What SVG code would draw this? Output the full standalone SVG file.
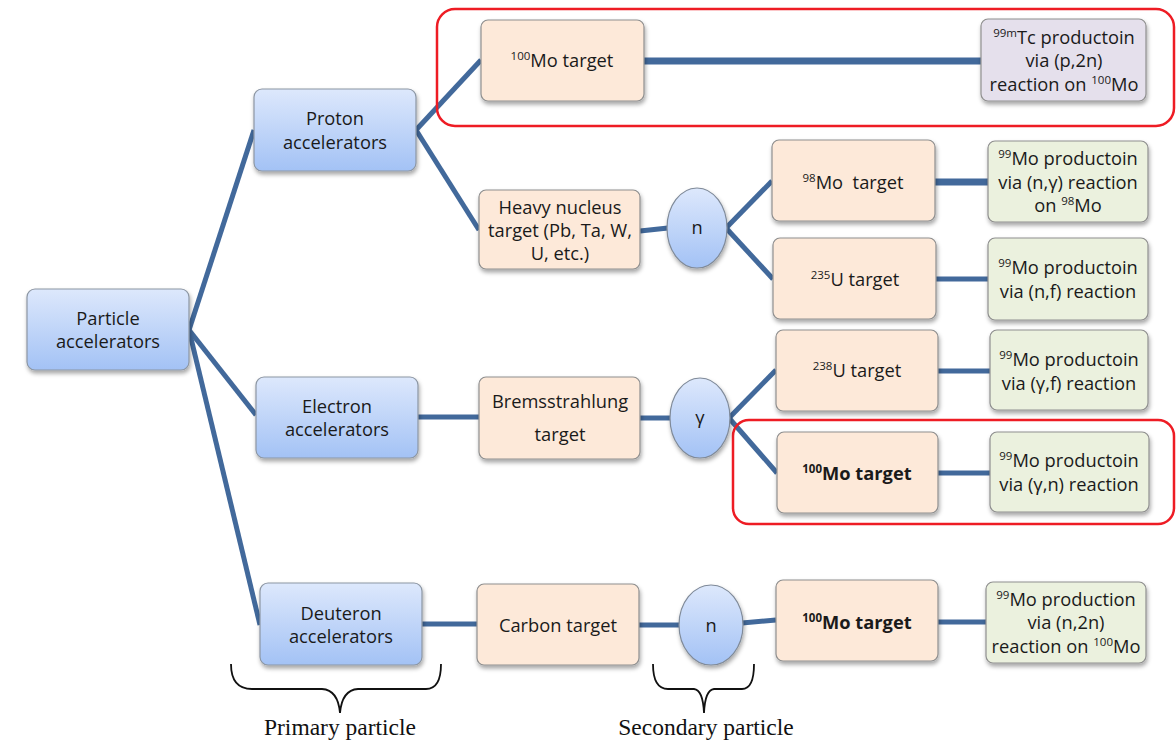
<svg xmlns="http://www.w3.org/2000/svg" width="1176" height="741" viewBox="0 0 1176 741">
<defs>
<linearGradient id="gBlue" x1="0" y1="0" x2="0" y2="1"><stop offset="0" stop-color="#dde8fc"/><stop offset="1" stop-color="#a3c2f5"/></linearGradient>
<filter id="sh" x="-10%" y="-10%" width="125%" height="135%"><feDropShadow dx="1" dy="3" stdDeviation="2" flood-color="#000" flood-opacity="0.35"/></filter>
<style>
.acc{fill:url(#gBlue);stroke:#8c96a3;stroke-width:1.2;filter:url(#sh)}
.pch{fill:#fde9d9;stroke:#8f8f8f;stroke-width:1.2;filter:url(#sh)}
.grn{fill:#ebf1de;stroke:#8f8f8f;stroke-width:1.2;filter:url(#sh)}
.lav{fill:#e5e0ec;stroke:#8f8f8f;stroke-width:1.2;filter:url(#sh)}
.ell{fill:url(#gBlue);stroke:#7f8a99;stroke-width:1.2;filter:url(#sh)}
.t{font-family:"Open Sans","Noto Sans",sans-serif;font-size:18.3px;fill:#1a1a1a;text-anchor:middle}
.b{font-weight:bold}
.sup{font-size:11.5px}
.c{stroke:#42699b;stroke-width:5;fill:none;stroke-linecap:butt}
.cw{stroke:#42699b;stroke-width:7;fill:none}
.red{fill:none;stroke:#ee1c24;stroke-width:2.5}
.br{fill:none;stroke:#111;stroke-width:1.8}
.s{font-family:"Liberation Serif",serif;font-size:23.5px;fill:#111;text-anchor:middle}
</style>
</defs>
<rect width="1176" height="741" fill="#ffffff"/>
<g id="connectors">
<line class="c" x1="189" y1="330" x2="254" y2="130"/>
<line class="c" x1="189" y1="330" x2="256" y2="415"/>
<line class="c" x1="189" y1="330" x2="260" y2="625"/>
<line class="c" x1="416" y1="130" x2="481" y2="60"/>
<line class="c" x1="416" y1="130" x2="479" y2="230"/>
<line class="cw" x1="644" y1="61" x2="981" y2="61"/>
<line class="c" x1="640" y1="231" x2="668" y2="228"/>
<line class="c" x1="726" y1="228" x2="772" y2="181"/>
<line class="c" x1="726" y1="228" x2="773" y2="279"/>
<line class="cw" x1="935" y1="182" x2="988" y2="182"/>
<line class="c" x1="936" y1="279" x2="988" y2="279"/>
<line class="c" x1="418" y1="417" x2="479" y2="417"/>
<line class="c" x1="640" y1="418" x2="670" y2="418"/>
<line class="c" x1="729" y1="418" x2="776" y2="370"/>
<line class="c" x1="729" y1="418" x2="777" y2="473"/>
<line class="c" x1="938" y1="371" x2="990" y2="371"/>
<line class="c" x1="938" y1="473" x2="990" y2="473"/>
<line class="c" x1="422" y1="624" x2="477" y2="624"/>
<line class="c" x1="639" y1="625" x2="680" y2="625"/>
<line class="c" x1="742" y1="623" x2="776" y2="620"/>
<line class="c" x1="938" y1="622" x2="986" y2="622"/>
</g>
<g id="highlight1"><rect class="red" x="437" y="9" width="737" height="117" rx="18"/></g>
<g id="highlight2"><rect class="red" x="733" y="420" width="441" height="104" rx="16"/></g>
<g id="n-particle"><rect class="acc" x="27" y="289" width="162" height="81" rx="8"/><text class="t" x="108" y="325">Particle</text><text class="t" x="108" y="348">accelerators</text></g>
<g id="n-proton"><rect class="acc" x="254" y="89" width="162" height="82" rx="8"/><text class="t" x="335" y="125">Proton</text><text class="t" x="335" y="149">accelerators</text></g>
<g id="n-electron"><rect class="acc" x="256" y="377" width="162" height="81" rx="8"/><text class="t" x="337" y="413">Electron</text><text class="t" x="337" y="436">accelerators</text></g>
<g id="n-deuteron"><rect class="acc" x="260" y="583" width="162" height="82" rx="8"/><text class="t" x="341" y="620">Deuteron</text><text class="t" x="341" y="643">accelerators</text></g>
<g id="n-mo100a"><rect class="pch" x="481" y="20" width="163" height="81" rx="7"/><text class="t" x="562" y="67"><tspan class="sup" dy="-7">100</tspan><tspan dy="7">Mo target</tspan></text></g>
<g id="n-tc99m"><rect class="lav" x="981" y="19" width="165" height="82" rx="7"/><text class="t" x="1064" y="44"><tspan class="sup" dy="-7">99m</tspan><tspan dy="7">Tc productoin</tspan></text><text class="t" x="1064" y="67">via (p,2n)</text><text class="t" x="1064" y="91">reaction on <tspan class="sup" dy="-7">100</tspan><tspan dy="7">Mo</tspan></text></g>
<g id="n-heavy"><rect class="pch" x="479" y="190" width="161" height="79" rx="7"/><text class="t" x="560" y="214">Heavy nucleus</text><text class="t" x="560" y="237">target (Pb, Ta, W,</text><text class="t" x="560" y="260">U, etc.)</text></g>
<g id="n-n1"><ellipse class="ell" cx="697" cy="228" rx="30" ry="40"/><text class="t" x="697" y="234">n</text></g>
<g id="n-mo98"><rect class="pch" x="772" y="140" width="163" height="81" rx="7"/><text class="t" x="853" y="189"><tspan class="sup" dy="-7">98</tspan><tspan dy="7">Mo&#160; target</tspan></text></g>
<g id="n-p1"><rect class="grn" x="988" y="141" width="160" height="81" rx="7"/><text class="t" x="1068" y="165"><tspan class="sup" dy="-7">99</tspan><tspan dy="7">Mo productoin</tspan></text><text class="t" x="1068" y="189">via (n,γ) reaction</text><text class="t" x="1068" y="212">on <tspan class="sup" dy="-7">98</tspan><tspan dy="7">Mo</tspan></text></g>
<g id="n-u235"><rect class="pch" x="773" y="238" width="163" height="81" rx="7"/><text class="t" x="855" y="286"><tspan class="sup" dy="-7">235</tspan><tspan dy="7">U target</tspan></text></g>
<g id="n-p2"><rect class="grn" x="988" y="238" width="160" height="82" rx="7"/><text class="t" x="1068" y="274"><tspan class="sup" dy="-7">99</tspan><tspan dy="7">Mo productoin</tspan></text><text class="t" x="1068" y="298">via (n,f) reaction</text></g>
<g id="n-u238"><rect class="pch" x="776" y="330" width="162" height="81" rx="7"/><text class="t" x="857" y="377"><tspan class="sup" dy="-7">238</tspan><tspan dy="7">U target</tspan></text></g>
<g id="n-p3"><rect class="grn" x="990" y="330" width="158" height="80" rx="7"/><text class="t" x="1069" y="366"><tspan class="sup" dy="-7">99</tspan><tspan dy="7">Mo productoin</tspan></text><text class="t" x="1069" y="390">via (γ,f) reaction</text></g>
<g id="n-brems"><rect class="pch" x="479" y="377" width="161" height="82" rx="7"/><text class="t" x="560" y="408">Bremsstrahlung</text><text class="t" x="560" y="441">target</text></g>
<g id="n-gamma"><ellipse class="ell" cx="700" cy="418" rx="30" ry="40"/><text class="t" x="700" y="424">γ</text></g>
<g id="n-mo100b"><rect class="pch" x="777" y="432" width="161" height="81" rx="7"/><text class="t b" x="857" y="480"><tspan class="sup" dy="-7">100</tspan><tspan dy="7">Mo target</tspan></text></g>
<g id="n-p4"><rect class="grn" x="990" y="432" width="159" height="80" rx="7"/><text class="t" x="1069" y="467"><tspan class="sup" dy="-7">99</tspan><tspan dy="7">Mo productoin</tspan></text><text class="t" x="1069" y="491">via (γ,n) reaction</text></g>
<g id="n-carbon"><rect class="pch" x="477" y="584" width="162" height="81" rx="7"/><text class="t" x="558" y="632">Carbon target</text></g>
<g id="n-n2"><ellipse class="ell" cx="711" cy="625" rx="32" ry="40"/><text class="t" x="711" y="632">n</text></g>
<g id="n-mo100c"><rect class="pch" x="776" y="580" width="162" height="81" rx="7"/><text class="t b" x="857" y="629"><tspan class="sup" dy="-7">100</tspan><tspan dy="7">Mo target</tspan></text></g>
<g id="n-p5"><rect class="grn" x="986" y="582" width="160" height="81" rx="7"/><text class="t" x="1066" y="606"><tspan class="sup" dy="-7">99</tspan><tspan dy="7">Mo production</tspan></text><text class="t" x="1066" y="629">via (n,2n)</text><text class="t" x="1066" y="653">reaction on <tspan class="sup" dy="-7">100</tspan><tspan dy="7">Mo</tspan></text></g>
<g id="brace-primary"><path class="br" d="M231,664 Q231,689 252,689 L322,689 Q338,690 340,713 Q342,690 358,689 L426,689 Q441,689 441,664"/><text class="s" x="340" y="735">Primary particle</text></g>
<g id="brace-secondary"><path class="br" d="M653,664 Q653,689 668,689 L694,689 Q703,690 704,713 Q705,690 714,689 L742,689 Q754,689 754,664"/><text class="s" x="706" y="735">Secondary particle</text></g>
</svg>
